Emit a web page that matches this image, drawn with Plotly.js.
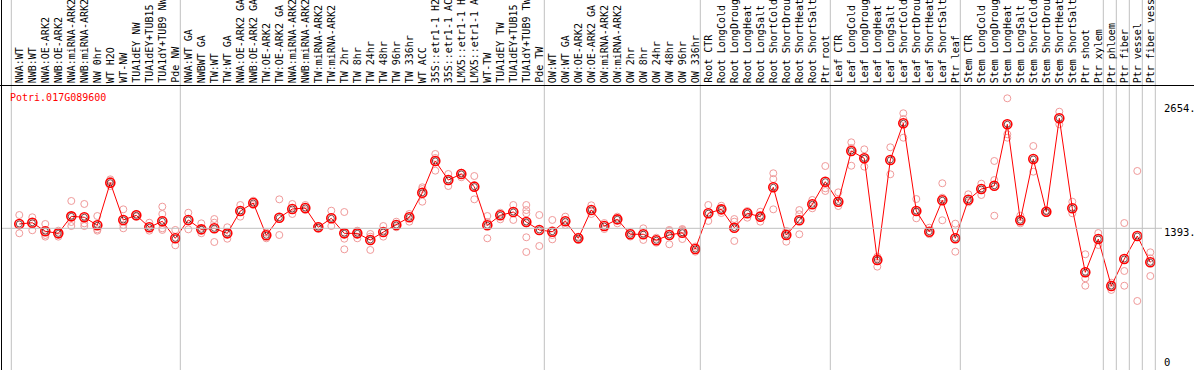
<!DOCTYPE html>
<html><head><meta charset="utf-8">
<script src="https://cdn.plot.ly/plotly-3.0.1.min.js"></script>
<style>html,body{margin:0;padding:0;background:#fff;overflow:hidden}#chart{width:1194px;height:370px}</style>
</head><body><div id="chart"></div>
<script>
const geneId = "Potri.017G089600";
const categories = [
"NWA:WT","NWB:WT","NWA:OE-ARK2","NWB:OE-ARK2","NWA:miRNA-ARK2","NWB:miRNA-ARK2","NW 0hr","WT H2O","WT-NW","TUA1dEY NW","TUA1dEY+TUB15 NW","TUA1dY+TUB9 NW","Pde NW",
"NWA:WT GA","NWBWT GA","TW:WT","TW:WT GA","NWA:OE-ARK2 GA","NWB:OE-ARK2 GA","TW:OE-ARK2","TW:OE-ARK2 GA","NWA:miRNA-ARK2 GA","NWB:miRNA-ARK2 GA","TW:miRNA-ARK2","TW:miRNA-ARK2 GA",
"TW 2hr","TW 8hr","TW 24hr","TW 48hr","TW 96hr","TW 336hr","WT ACC","35S::etr1-1 H2O","35S::etr1-1 ACC","LMX5::etr1-1 H2O","LMX5::etr1-1 ACC","WT-TW","TUA1dEY TW","TUA1dEY+TUB15 TW","TUA1dY+TUB9 TW","Pde TW",
"OW:WT","OW:WT GA","OW:OE-ARK2","OW:OE-ARK2 GA","OW:miRNA-ARK2","OW:miRNA-ARK2 GA","OW 2hr","OW 8hr","OW 24hr","OW 48hr","OW 96hr","OW 336hr",
"Root CTR","Root LongCold","Root LongDrought","Root LongHeat","Root LongSalt","Root ShortCold","Root ShortDrought","Root ShortHeat","Root ShortSalt","Ptr root",
"Leaf CTR","Leaf LongCold","Leaf LongDrought","Leaf LongHeat","Leaf LongSalt","Leaf ShortCold","Leaf ShortDrought","Leaf ShortHeat","Leaf ShortSalt","Ptr leaf",
"Stem CTR","Stem LongCold","Stem LongDrought","Stem LongHeat","Stem LongSalt","Stem ShortCold","Stem ShortDrought","Stem ShortHeat","Stem ShortSalt","Ptr shoot","Ptr xylem",
"Ptr phloem","Ptr fiber","Ptr vessel","Ptr fiber vessel"];

const means = [
1435,1447,1364,1344,1509,1500,1422,1835,1474,1519,1403,1461,1296,
1474,1383,1393,1344,1561,1638,1325,1496,1580,1590,1403,1490,1344,1344,1280,1357,1425,1500,1738,2046,1861,1920,1797,1422,1519,1551,1454,1377,
1360,1461,1296,1571,1415,1480,1335,1335,1277,1328,1350,1192,
1539,1577,1399,1539,1506,1791,1328,1471,1626,1845,
1651,2143,2072,1086,2056,2412,1561,1360,1665,1296,
1670,1774,1806,2402,1471,2065,1554,2460,1587,966,1289,
833,1095,1318,1063];

const replicates = [
[1522,1345],[1500,1374],[1435,1312,1328],[1370,1312],[1658,1415,1454],[1629,1415,1441],[1512,1370,1383],[1868,1855,1803],[1577,1393,1425],[1532,1506],[1447,1370],[1603,1532,1393,1377],[1377,1228],
[1544,1383],[1441,1345],[1483,1447,1260],[1403,1292],[1619,1506],[1661,1619],[1350,1296],[1674,1328],[1629,1532],[1619,1570],[1415,1391],[1564,1415],
[1551,1292,1189],[1370,1296,1366],[1338,1312,1183],[1415,1312],[1457,1403],[1532,1457],[1791,1651,1774],[2114,1952,2075],[1920,1803],[1932,1888],[1900,1674],[1512,1296,1454],[1544,1480],[1619,1474],[1619,1570,1538,1441,1306,1163],[1522,1221],
[1474,1286,1328],[1506,1425],[1312,1280],[1616,1532],[1444,1386],[1506,1441],[1357,1313],[1393,1280],[1302,1253],[1377,1238,1367],[1386,1289,1377],[1166,1216],
[1619,1464],[1612,1541],[1483,1457,1270],[1561,1496],[1554,1457],[1927,1871,1577],[1367,1263,1347],[1570,1529,1335],[1668,1587],[1997,1781,1755],
[1742,1609,1638],[2227,2000,2172],[2159,1991,2066],[1118,1021,1105],[2179,1917],[2509,2453,2272],[1677,1490,1551],[1399,1335],[1830,1690,1471],[1438,1166],
[1723,1645],[1826,1716],[2046,1861,1515],[2654,2305,2272],[1515,1441],[2191,1942],[1568,1541],[2524,2402],[1651,1539],[1141,908,836],[1347,1231],
[865,795],[1444,979,836],[1949,688],[1160,1102,930]];

const groupStarts = [0,13,41,53,63,73,84,85,86,87,88];
const yTickValues = [2654, 1393, 0];
const yTickLabels = ["2654.", "1393.", "0"];
const gridValue = 1393;

const W = 1194, H = 370;
const step = 13, x0px = 19.3;
const xRange = [-x0px/step, (W - x0px)/step];
const yRange = [18.5, 3607.5];
const pxToX = p => (p - x0px)/step;
const mono = "DejaVu Sans Mono, Liberation Mono, monospace";

const idx = categories.map((_, i) => i);
const repX = [], repY = [];
replicates.forEach((r, i) => r.forEach(v => { repX.push(i); repY.push(v); }));

const traces = [
  {x: repX, y: repY, type: 'scatter', mode: 'markers', hoverinfo: 'skip',
   marker: {symbol: 'circle-open', size: 7, color: '#f09a9a', line: {width: 1, color: '#f09a9a'}}},
  {x: idx, y: means, type: 'scatter', mode: 'lines+markers', hoverinfo: 'skip',
   line: {color: '#ff0000', width: 1},
   marker: {symbol: 'circle-open', size: 9, color: '#ff0000', line: {width: 1.6, color: '#ff0000'}}},
  {x: idx, y: means, type: 'scatter', mode: 'markers', hoverinfo: 'skip',
   marker: {symbol: 'circle-open', size: 6, color: '#400000', line: {width: 0.7, color: '#400000'}}}
];

const shapes = [];
groupStarts.forEach(s => shapes.push({type: 'line', xref: 'x', yref: 'paper', x0: s - 0.615, x1: s - 0.615, y0: 0, y1: 1, line: {color: '#c0c0c0', width: 1}}));
shapes.push({type: 'line', xref: 'x', yref: 'y', x0: pxToX(2), x1: pxToX(1162), y0: gridValue, y1: gridValue, line: {color: '#c0c0c0', width: 1}});
shapes.push({type: 'line', xref: 'paper', yref: 'paper', x0: 0, x1: 1, y0: 1 - 85.5/H, y1: 1 - 85.5/H, line: {color: '#000', width: 1}});
shapes.push({type: 'line', xref: 'paper', yref: 'paper', x0: 1.5/W, x1: 1.5/W, y0: 0, y1: 1, line: {color: '#000', width: 1}});

const annotations = categories.map((c, i) => ({
  text: c, xref: 'x', yref: 'paper', x: i, y: 1 - 84/H, xanchor: 'center', yanchor: 'bottom',
  textangle: -90, showarrow: false, borderpad: 0, font: {family: mono, size: 10, color: '#000'}
}));
annotations.push({text: geneId, xref: 'paper', yref: 'paper', x: 9/W, y: 1 - 97/H, xanchor: 'left', yanchor: 'middle',
  showarrow: false, borderpad: 0, font: {family: mono, size: 10, color: '#ff0000'}});
annotations.push({text: yTickLabels[0], xref: 'paper', yref: 'y', x: 1163/W, y: yTickValues[0], xanchor: 'left', yanchor: 'middle', yshift: -9.5,
  showarrow: false, borderpad: 0, font: {family: mono, size: 10.5, color: '#000'}});
annotations.push({text: yTickLabels[1], xref: 'paper', yref: 'y', x: 1163/W, y: yTickValues[1], xanchor: 'left', yanchor: 'middle', yshift: -4,
  showarrow: false, borderpad: 0, font: {family: mono, size: 10.5, color: '#000'}});
annotations.push({text: yTickLabels[2], xref: 'paper', yref: 'paper', x: 1163/W, y: 1 - 362/H, xanchor: 'left', yanchor: 'middle',
  showarrow: false, borderpad: 0, font: {family: mono, size: 10.5, color: '#000'}});

const layout = {
  width: W, height: H, margin: {l: 0, r: 0, t: 0, b: 0, pad: 0},
  paper_bgcolor: '#fff', plot_bgcolor: '#fff', showlegend: false, hovermode: false,
  xaxis: {range: xRange, visible: false, fixedrange: true},
  yaxis: {range: yRange, visible: false, fixedrange: true},
  shapes: shapes, annotations: annotations
};
Plotly.newPlot('chart', traces, layout, {staticPlot: true, displayModeBar: false});
</script></body></html>
